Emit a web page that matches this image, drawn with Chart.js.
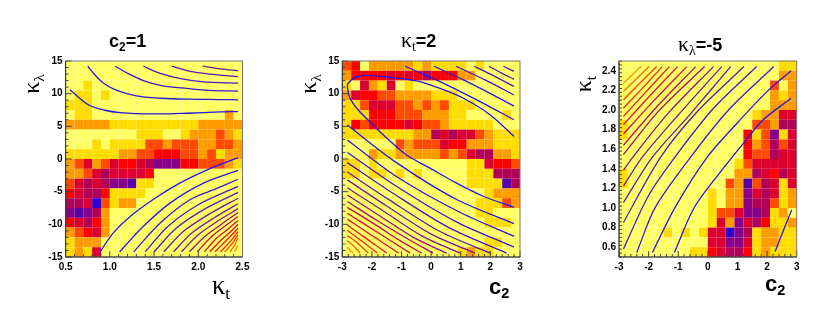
<!DOCTYPE html>
<html>
<head>
<meta charset="utf-8">
<script src="https://cdn.jsdelivr.net/npm/chart.js@4"></script>
<style>
    body { margin: 0; background: #fff; width: 830px; height: 325px; overflow: hidden; position: relative; }
    canvas { position: absolute; top: 0; }
    .lbl { position: absolute; font-family: "Liberation Sans", sans-serif; font-weight: bold; color: #000; white-space: nowrap; line-height: 1; }
    .lbl sub { font-size: 66%; vertical-align: baseline; position: relative; top: 0.3em; }
    .k { font-family: "Liberation Serif", serif; font-weight: normal; font-size: 1.2em; }
    .lbl sub.k { font-size: 78%; }
    .rot { transform: rotate(-90deg); transform-origin: center; }
</style>
</head>
<body>
<canvas id="p1" width="270" height="325" style="left:0"></canvas>
<canvas id="p2" width="270" height="325" style="left:280px"></canvas>
<canvas id="p3" width="270" height="325" style="left:560px"></canvas>

<div class="lbl" style="left:109px;top:32px;font-size:18px">c<sub>2</sub>=1</div>
<div class="lbl" style="left:401px;top:30px;font-size:18px"><span class="k">&#954;</span><sub class="k">t</sub>=2</div>
<div class="lbl" style="left:678px;top:34px;font-size:18px"><span class="k">&#954;</span><sub class="k">&#955;</sub>=-5</div>

<div class="lbl rot" style="left:21px;top:72px;font-size:20px"><span class="k">&#954;</span><sub class="k">&#955;</sub></div>
<div class="lbl" style="left:212px;top:272px;font-size:22px"><span class="k">&#954;</span><sub class="k">t</sub></div>
<div class="lbl rot" style="left:298px;top:72px;font-size:20px"><span class="k">&#954;</span><sub class="k">&#955;</sub></div>
<div class="lbl" style="left:489px;top:276px;font-size:22px">c<sub>2</sub></div>
<div class="lbl rot" style="left:575px;top:72px;font-size:20px"><span class="k">&#954;</span><sub class="k">t</sub></div>
<div class="lbl" style="left:765px;top:273px;font-size:22px">c<sub>2</sub></div>

<script>
// cell levels, top row first, 0 = lowest .. 9 = highest
const cellsP1 = [
    "00000000000000000000",
    "00000000000000000000",
    "00100000000000000000",
    "01101000000000000000",
    "11100000000000000000",
    "01100000000000000020",
    "22222111111111122222",
    "00000000111001222321",
    "00010111133233322332",
    "11111122334443323122",
    "23523544567774433321",
    "22356555540000000000",
    "35656778110000000000",
    "45664111100000000000",
    "66593122000000000000",
    "78762000000000000000",
    "45642000000000000000",
    "23452000000000000000",
    "12220000000000000000",
    "12150000000000000000"
];
const cellsP2 = [
    "34022222121111010000",
    "24444545464442200000",
    "10521501000000000000",
    "25443322221110000000",
    "11355533232311100000",
    "11144433322211000010",
    "14344445433211111000",
    "11111111226565532111",
    "00000032333544222111",
    "00021122222323566221",
    "11010000000000115443",
    "11011010100000111666",
    "00000000000000111186",
    "00000000000000001222",
    "00000000000000011132",
    "00000000000000011000",
    "00000000000000001110",
    "00000000000000000000",
    "00000000000000001100",
    "00000000000001211000"
];
const cellsP3 = [
    "00000000000000000011",
    "00000000000000000022",
    "00000000000000000302",
    "00000000000000000212",
    "00000000000000000222",
    "00000000000000012255",
    "10000000000000033266",
    "10000000000000413715",
    "00000000000000423635",
    "00000000000000433655",
    "00000000000001355555",
    "10000000000002265465",
    "10000000000032836515",
    "00000000001022756512",
    "00000000001022766312",
    "00000000001335776120",
    "00000000001527564112",
    "00000101015597612211",
    "00000000005577512211",
    "00000000114566412111"
];
const cellColors = ["#ffff66", "#ffdd00", "#ff9c00", "#ff4a00", "#ff0000", "#dc0030", "#b00058", "#860088", "#5800a8", "#3000d0"];

// contour lines, lowest level first in each group
const upperP1 = [
    [[0.55,10.6],[0.757,8.3],[0.93,7.5],[1.115,7.1],[1.49,6.9],[1.87,7.0],[2.25,7.2],[2.45,7.25]],
    [[0.75,14.2],[0.83,12.9],[0.93,11.6],[1.08,10.5],[1.3,9.65],[1.57,9.3],[1.87,9.15],[2.25,9.1],[2.45,9.05]],
    [[1.06,14.2],[1.19,13.2],[1.38,12],[1.6,11.2],[1.87,10.8],[2.13,10.5],[2.45,10.4]],
    [[1.38,14.2],[1.57,13.1],[1.8,12.3],[2.06,11.8],[2.45,11.6]],
    [[1.7,14.2],[1.91,13.4],[2.13,13.0],[2.45,12.6]],
    [[2.05,14.2],[2.25,13.8],[2.45,13.5]]
];
const lowerP1 = [
    [[0.89,-14.2],[1.04,-11.3],[1.23,-8.8],[1.49,-6.2],[1.79,-3.7],[2.1,-1.65],[2.45,0.2]],
    [[1.11,-14.2],[1.38,-10.3],[1.68,-6.75],[2.06,-3.7],[2.45,-1.75]],
    [[1.27,-14.2],[1.57,-9.8],[1.91,-6.2],[2.21,-4.5],[2.45,-3.1]],
    [[1.4,-14.2],[1.65,-10.4],[2.0,-7.0],[2.45,-4.2]],
    [[1.5,-14.2],[1.75,-10.6],[2.08,-7.6],[2.45,-5.1]],
    [[1.61,-14.2],[1.84,-11.0],[2.14,-8.3],[2.45,-6.0]],
    [[1.72,-14.2],[1.93,-11.3],[2.18,-9],[2.45,-6.85]],
    [[1.81,-14.2],[2.0,-11.6],[2.22,-9.5],[2.45,-7.6]],
    [[1.9,-14.2],[2.08,-11.8],[2.27,-9.9],[2.45,-8.2]],
    [[1.99,-14.2],[2.14,-12],[2.3,-10.3],[2.45,-8.8]],
    [[2.07,-14.2],[2.2,-12.2],[2.33,-10.8],[2.45,-9.4]],
    [[2.13,-14.2],[2.25,-12.5],[2.36,-11.2],[2.45,-10]],
    [[2.19,-14.2],[2.3,-12.7],[2.38,-11.6],[2.45,-10.6]],
    [[2.25,-14.2],[2.35,-12.8],[2.45,-11.1]],
    [[2.3,-14.2],[2.38,-13],[2.45,-11.6]],
    [[2.36,-14.2],[2.41,-13.2],[2.45,-12.1]],
    [[2.41,-14.2],[2.43,-13.7],[2.45,-13.2]]
];
const bigLoopP2 = [[2.8,3.44],[2.0,6.75],[1.09,9.3],[0.3,10.8],[-0.49,11.95],[-1.39,12.5],[-2.18,12.8],[-2.57,12.5],[-2.8,11.6],[-2.83,11.1],[-2.74,9.3],[-2.46,7.5],[-2.07,5.7],[-1.5,3.2],[-0.83,0.6],[-0.04,-1.4],[0.86,-3.7],[1.76,-5.7],[2.8,-7.4]];
const upperP2 = [
    [[-0.88,14.2],[0.3,11.85],[1.54,9.05],[2.8,6]],
    [[0.1,14.2],[1.09,12.1],[1.99,10.05],[2.8,8.1]],
    [[0.84,14.2],[1.82,12.1],[2.8,9.8]],
    [[1.45,14.2],[2.1,12.75],[2.8,11.1]],
    [[1.95,14.2],[2.4,13.1],[2.8,12.2]],
    [[2.44,14.2],[2.62,13.8],[2.8,13.4]]
];
const lowerP2 = [
    [[-2.83,5.2],[-1.22,-0.4],[0.86,-6.2],[2.8,-9.9]],
    [[-2.83,2.9],[-1.2,-2.6],[0.9,-8.0],[2.8,-11.85]],
    [[-2.83,1],[-1.2,-4.1],[0.8,-9.5],[2.8,-13.5]],
    [[-2.83,-0.55],[-1.3,-5.2],[0.6,-10.5],[2.55,-14.4]],
    [[-2.83,-2],[-1.4,-6.3],[0.3,-11.1],[1.99,-14.4]],
    [[-2.83,-3.2],[-1.5,-7.2],[0,-11.5],[1.48,-14.4]],
    [[-2.83,-4.4],[-1.6,-8],[-0.3,-11.8],[0.97,-14.4]],
    [[-2.83,-5.5],[-1.7,-8.8],[-0.6,-12],[0.52,-14.4]],
    [[-2.83,-6.5],[-1.8,-9.5],[-0.8,-12.2],[0.07,-14.4]],
    [[-2.83,-7.4],[-1.9,-10],[-1.05,-12.5],[-0.32,-14.4]],
    [[-2.83,-8.3],[-1.75,-11.4],[-0.71,-14.4]],
    [[-2.83,-9.2],[-2,-11.7],[-1.1,-14.4]],
    [[-2.83,-10.1],[-2.15,-12.3],[-1.5,-14.4]],
    [[-2.83,-10.9],[-2.3,-12.7],[-1.82,-14.4]],
    [[-2.83,-11.7],[-2.45,-13],[-2.12,-14.4]],
    [[-2.83,-12.5],[-2.6,-13.4],[-2.4,-14.4]],
    [[-2.83,-13.5],[-2.73,-14],[-2.63,-14.4]]
];
const linesP3 = [
    [[-1.13,0.547],[-0.43,1.02],[0.58,1.427],[1.2,1.66],[1.87,1.9],[2.81,2.12]],
    [[-1.87,0.547],[-1.11,1.004],[-0.04,1.512],[0.97,1.86],[1.99,2.185],[2.81,2.4]],
    [[-2.4,0.547],[-1.78,1.004],[-0.6,1.512],[0.7,2.0],[2.23,2.443]],
    [[-2.85,0.581],[-2.01,1.123],[-1.13,1.512],[0.2,2.02],[1.65,2.443]],
    [[-2.85,0.852],[-1.61,1.512],[-0.4,1.97],[1.22,2.443]],
    [[-2.85,1.055],[-1.89,1.512],[-0.66,1.935],[0.77,2.443]],
    [[-2.85,1.224],[-2.23,1.512],[-0.99,1.952],[0.47,2.443]],
    [[-2.85,1.383],[-2.55,1.512],[-1.33,1.97],[0.19,2.443]],
    [[-2.85,1.545],[-1.67,1.986],[-0.11,2.443]],
    [[-2.85,1.64],[-1.76,2.02],[-0.41,2.443]],
    [[-2.85,1.755],[-1.87,2.08],[-0.71,2.443]],
    [[-2.85,1.85],[-2.01,2.128],[-1.02,2.443]],
    [[-2.85,1.935],[-2.12,2.175],[-1.3,2.443]],
    [[-2.85,2.02],[-2.23,2.215],[-1.54,2.443]],
    [[-2.85,2.105],[-2.32,2.267],[-1.73,2.443]],
    [[-2.85,2.19],[-2.44,2.31],[-1.99,2.443]],
    [[-2.85,2.274],[-2.57,2.355],[-2.26,2.443]],
    [[-2.8,2.41],[-2.72,2.425],[-2.63,2.443]]
];
const cornerP3 = [[2.27,0.554],[2.55,0.77],[2.83,0.98]];

// tick labels
const ticksKt = [0.5, 1, 1.5, 2, 2.5];
const ticksKl = [-15, -10, -5, 0, 5, 10, 15];
const ticksC2 = [-3, -2, -1, 0, 1, 2, 3];
const ticksKtY = [0.6, 0.8, 1, 1.2, 1.4, 1.6, 1.8, 2, 2.2, 2.4];

const lineRamp = ["#2418e4", "#2c18dc", "#3c18d0", "#4c18c0", "#5e18ac", "#70189c", "#80188c", "#90107c", "#a41064", "#bc104c", "#d41034", "#e41020", "#f01818", "#f82810", "#ff3c00", "#ff6000", "#ff9000", "#ffe8a0", "#ffffe0"];

function lineSets(groups) {
    const out = [];
    groups.forEach(lines => {
        lines.forEach((pts, i) => {
            out.push({
                data: pts,
                showLine: true,
                pointRadius: 0,
                borderWidth: 1.3,
                tension: 0.3,
                borderColor: lineRamp[Math.min(i, lineRamp.length - 1)]
            });
        });
    });
    return out;
}

// heat cells under the lines, ROOT style frame and inward ticks on top
const heatPlugin = {
    id: 'heat',
    beforeDatasetsDraw(chart, args, o) {
        const { ctx, scales: { x, y } } = chart;
        const nx = o.cells[0].length, ny = o.cells.length;
        const dx = (x.max - x.min) / nx, dy = (y.max - y.min) / ny;
        o.cells.forEach((row, r) => {
            for (let c = 0; c < nx; c++) {
                const x0 = x.getPixelForValue(x.min + c * dx);
                const x1 = x.getPixelForValue(x.min + (c + 1) * dx);
                const y0 = y.getPixelForValue(y.max - r * dy);
                const y1 = y.getPixelForValue(y.max - (r + 1) * dy);
                ctx.fillStyle = cellColors[+row[c]];
                ctx.fillRect(x0, y0, x1 - x0, y1 - y0);
            }
        });
    },
    afterDatasetsDraw(chart, args, o) {
        const { ctx, chartArea: a, scales: { x, y } } = chart;
        ctx.save();
        ctx.strokeStyle = '#444';
        ctx.lineWidth = 1;
        ctx.beginPath();
        for (let v = x.min; v <= x.max + 1e-9; v += o.xMinor) {
            const p = x.getPixelForValue(v);
            const major = x.ticks.some(t => Math.abs(t.value - v) < 1e-6);
            ctx.moveTo(p, a.bottom);
            ctx.lineTo(p, a.bottom - (major ? 6 : 3));
        }
        for (let v = y.min; v <= y.max + 1e-9; v += o.yMinor) {
            const p = y.getPixelForValue(v);
            const major = y.ticks.some(t => Math.abs(t.value - v) < 1e-6);
            ctx.moveTo(a.left, p);
            ctx.lineTo(a.left + (major ? 6 : 3), p);
        }
        ctx.stroke();
        ctx.strokeStyle = '#777';
        ctx.strokeRect(a.left, a.top, a.right - a.left, a.bottom - a.top);
        ctx.strokeStyle = '#333';
        ctx.beginPath();
        ctx.moveTo(a.left, a.top);
        ctx.lineTo(a.left, a.bottom);
        ctx.lineTo(a.right, a.bottom);
        ctx.stroke();
        ctx.restore();
    }
};

function axis(min, max, tickVals, pad, fit) {
    return {
        type: 'linear',
        min: min,
        max: max,
        grid: { display: false, drawTicks: false },
        border: { display: false },
        afterBuildTicks: s => { s.ticks = tickVals.map(v => ({ value: v })); },
        afterFit: fit,
        ticks: {
            autoSkip: false,
            maxRotation: 0,
            padding: pad,
            color: '#000',
            font: { family: '"Liberation Sans", sans-serif', size: 10, weight: 'bold' }
        }
    };
}

function makePanel(id, cfg) {
    new Chart(document.getElementById(id).getContext('2d'), {
        type: 'scatter',
        data: { datasets: lineSets(cfg.lines) },
        options: {
            responsive: false,
            animation: false,
            layout: { autoPadding: false, padding: { left: 0, top: 61, right: 270 - cfg.right, bottom: 0 } },
            scales: {
                x: axis(cfg.xMin, cfg.xMax, cfg.xTicks, 4, s => { s.height = 68; }),
                y: axis(cfg.yMin, cfg.yMax, cfg.yTicks, 3, s => { s.width = cfg.left; })
            },
            plugins: {
                legend: { display: false },
                tooltip: { enabled: false },
                heat: { cells: cfg.cells, xMinor: cfg.xMinor, yMinor: cfg.yMinor }
            }
        },
        plugins: [heatPlugin]
    });
}

makePanel('p1', { cells: cellsP1, lines: [upperP1, lowerP1], left: 65.6, right: 242.5, xMin: 0.5, xMax: 2.5, yMin: -15, yMax: 15, xTicks: ticksKt, yTicks: ticksKl, xMinor: 0.1, yMinor: 1 });
makePanel('p2', { cells: cellsP2, lines: [[bigLoopP2], upperP2, lowerP2], left: 62.3, right: 240, xMin: -3, xMax: 3, yMin: -15, yMax: 15, xTicks: ticksC2, yTicks: ticksKl, xMinor: 0.2, yMinor: 1 });
makePanel('p3', { cells: cellsP3, lines: [linesP3, [cornerP3]], left: 59, right: 236.7, xMin: -3, xMax: 3, yMin: 0.5, yMax: 2.5, xTicks: ticksC2, yTicks: ticksKtY, xMinor: 0.2, yMinor: 0.04 });
</script>
</body>
</html>
